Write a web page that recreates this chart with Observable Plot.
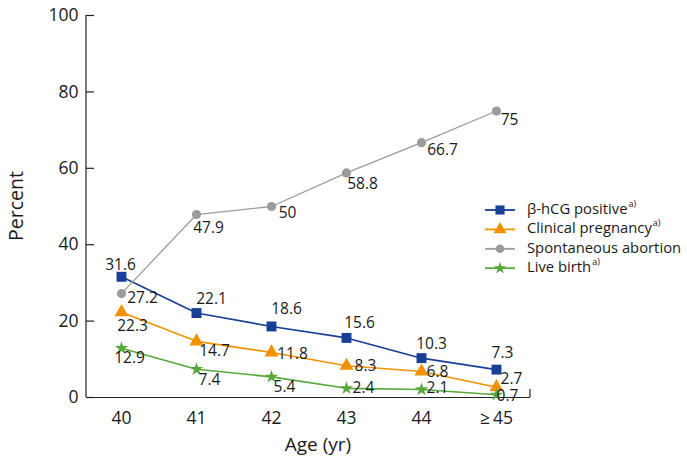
<!DOCTYPE html>
<html>
<head>
<meta charset="utf-8">
<script src="https://cdn.jsdelivr.net/npm/d3@7"></script>
<script src="https://cdn.jsdelivr.net/npm/@observablehq/plot@0.6"></script>
<style>
  html, body { margin: 0; padding: 0; background: #fff; }
  #chart { width: 687px; height: 463px; }
</style>
</head>
<body>
<div id="chart"></div>
<script>
// ---- data ----
const ages = ["40", "41", "42", "43", "44", "\u2265\u200945"];
const seriesNames = ["β-hCG positive", "Clinical pregnancy", "Spontaneous abortion", "Live birth"];
const hcgPositive = [31.6, 22.1, 18.6, 15.6, 10.3, 7.3];
const clinicalPregnancy = [22.3, 14.7, 11.8, 8.3, 6.8, 2.7];
const spontaneousAbortion = [27.2, 47.9, 50, 58.8, 66.7, 75];
const liveBirth = [12.9, 7.4, 5.4, 2.4, 2.1, 0.7];
const footnoted = [true, true, false, true];
const yTicks = [0, 20, 40, 60, 80, 100];

// ---- styling / label placement ----
const colors = ["#173f94", "#f39200", "#9b9b9b", "#57a83b"];
const symbols = ["square", "triangle", "circle", "star"];
const radii = [5.6, 5.2, 4.6, 4.2];
const widths = [1.6, 1.6, 1.3, 1.6];
const labelOffsets = [
  [[-1, -12], [15, -14], [15, -17], [13, -15], [10, -14], [6, -17]],
  [[11, 14], [18, 10], [21, 2], [19, 0], [16, 1], [15, -8]],
  [[21, 4], [12, 14], [16, 7], [16, 11], [21, 7], [13, 9]],
  [[8, 10], [13, 11], [13, 10], [17, 0], [16, -1], [11, 1]]
];

const seriesValues = [hcgPositive, clinicalPregnancy, spontaneousAbortion, liveBirth];
const rows = seriesValues.map((vals, s) =>
  vals.map((v, i) => ({series: seriesNames[s], age: ages[i], value: v, s, i}))
);

const marks = [];
// y axis line and the x axis end tick (custom render)
marks.push((index, scales, values, dim) => {
  const g = d3.create("svg:g");
  g.append("line")
    .attr("x1", dim.marginLeft).attr("x2", dim.marginLeft)
    .attr("y1", dim.marginTop).attr("y2", dim.height - dim.marginBottom)
    .attr("stroke", "#222").attr("stroke-width", 1.2);
  const xr = dim.width - dim.marginRight;
  const yb = dim.height - dim.marginBottom;
  g.append("line")
    .attr("x1", xr).attr("x2", xr).attr("y1", yb).attr("y2", yb - 8)
    .attr("stroke", "#222").attr("stroke-width", 1.2);
  return g.node();
});
marks.push(Plot.ruleY([0], {stroke: "#222", strokeWidth: 1.2}));
marks.push(Plot.axisY({ticks: yTicks, tickSize: -8, tickPadding: 16, fontSize: 17.5, label: null, stroke: "#222", strokeWidth: 1.2, fill: "#1a1a1a"}));
marks.push(Plot.axisX({tickSize: 0, tickPadding: 14, fontSize: 17.5, label: null, fill: "#1a1a1a"}));

rows.forEach((data, s) => {
  marks.push(Plot.line(data, {x: "age", y: "value", stroke: colors[s], strokeWidth: widths[s]}));
});
rows.forEach((data, s) => {
  marks.push(Plot.dot(data, {x: "age", y: "value", symbol: () => symbols[s], fill: colors[s], stroke: "none", r: radii[s]}));
});
rows.forEach((data, s) => {
  data.forEach((d, i) => {
    marks.push(Plot.text([d], {
      x: "age", y: "value", text: (r) => String(r.value),
      dx: labelOffsets[s][i][0], dy: labelOffsets[s][i][1],
      textAnchor: "middle", lineAnchor: "middle", fontSize: 15.5, fill: "#1a1a1a"
    }));
  });
});

const chart = Plot.plot({
  width: 687,
  height: 463,
  marginLeft: 86,
  marginRight: 157,
  marginTop: 15,
  marginBottom: 66,
  style: {fontFamily: "'Open Sans', sans-serif", background: "#fff", color: "#1a1a1a"},
  x: {type: "point", domain: ages, padding: 0.45},
  y: {domain: [0, 100]},
  symbol: {type: "identity"},
  marks
});

// axis titles and legend
const svg = d3.select(chart);
svg.append("text")
  .attr("transform", "translate(18,206) rotate(-90)")
  .attr("text-anchor", "middle").attr("dominant-baseline", "middle")
  .attr("font-size", 19.5).attr("fill", "#1a1a1a")
  .text("Percent");
svg.append("text")
  .attr("x", 318).attr("y", 446)
  .attr("text-anchor", "middle").attr("dominant-baseline", "middle")
  .attr("font-size", 19).attr("fill", "#1a1a1a")
  .text("Age (yr)");

const legend = svg.append("g").attr("transform", "translate(485,210)");
seriesNames.forEach((name, s) => {
  const row = legend.append("g").attr("transform", `translate(0,${s * 19.4})`);
  row.append("line").attr("x1", 0).attr("x2", 30).attr("y1", 0).attr("y2", 0)
    .attr("stroke", colors[s]).attr("stroke-width", 1.8);
  const sym = d3.symbol().type({
    square: d3.symbolSquare, triangle: d3.symbolTriangle,
    circle: d3.symbolCircle, star: d3.symbolStar
  }[symbols[s]]).size(Math.PI * radii[s] * radii[s] * 0.85);
  row.append("path").attr("d", sym()).attr("transform", "translate(15,0)").attr("fill", colors[s]);
  const t = row.append("text").attr("x", 42).attr("y", 0)
    .attr("text-anchor", "start")
    .attr("dominant-baseline", "middle").attr("font-size", 14.8).attr("fill", "#1a1a1a")
    .text(name);
  if (footnoted[s]) {
    t.append("tspan").attr("font-size", 9).attr("dy", -5).attr("dx", 1).text("a)");
  }
});

document.getElementById("chart").appendChild(chart);
</script>
</body>
</html>
